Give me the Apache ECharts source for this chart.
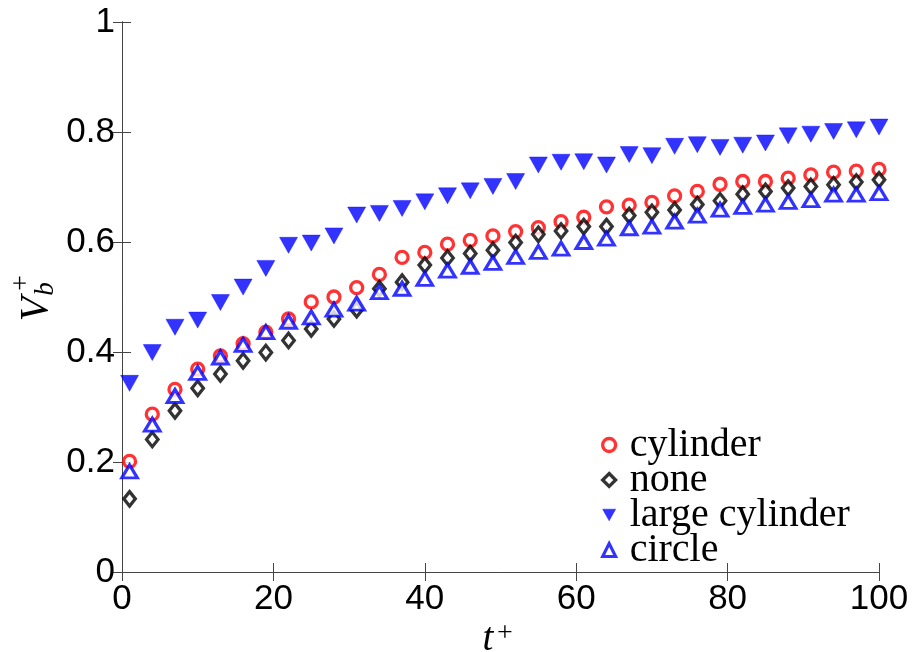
<!DOCTYPE html>
<html>
<head>
<meta charset="utf-8">
<script src="https://cdn.jsdelivr.net/npm/echarts@6/dist/echarts.min.js"></script>
<style>
  html, body { margin: 0; padding: 0; background: #fff; }
  #chart { width: 913px; height: 652px; }
</style>
</head>
<body>
<div id="chart"></div>
<script>
// Sampling times t+
const tPlus = [1, 4, 7, 10, 13, 16, 19, 22, 25, 28, 31, 34, 37, 40, 43, 46, 49,
  52, 55, 58, 61, 64, 67, 70, 73, 76, 79, 82, 85, 88, 91, 94, 97, 100];

// Bulk velocity V_b+ for each configuration
const cylinder = [0.201, 0.287, 0.332, 0.369, 0.393, 0.415, 0.436, 0.460, 0.491, 0.500,
  0.517, 0.541, 0.572, 0.581, 0.596, 0.603, 0.611, 0.619, 0.626, 0.637, 0.645, 0.664,
  0.667, 0.672, 0.684, 0.692, 0.705, 0.710, 0.710, 0.716, 0.722, 0.727, 0.729, 0.732];
const none = [0.133, 0.241, 0.293, 0.334, 0.360, 0.384, 0.399, 0.421, 0.442, 0.460,
  0.477, 0.515, 0.527, 0.558, 0.571, 0.579, 0.585, 0.599, 0.614, 0.620, 0.628, 0.628,
  0.648, 0.654, 0.658, 0.668, 0.675, 0.687, 0.692, 0.698, 0.701, 0.704, 0.709, 0.713];
const largeCylinder = [0.343, 0.399, 0.445, 0.458, 0.490, 0.518, 0.552, 0.594, 0.598, 0.611,
  0.649, 0.652, 0.661, 0.673, 0.684, 0.693, 0.701, 0.710, 0.740, 0.745, 0.746, 0.740,
  0.759, 0.757, 0.774, 0.777, 0.772, 0.776, 0.780, 0.793, 0.796, 0.801, 0.804, 0.809];
const circle = [0.183, 0.268, 0.320, 0.362, 0.390, 0.413, 0.436, 0.455, 0.463, 0.477,
  0.488, 0.509, 0.515, 0.533, 0.548, 0.555, 0.562, 0.573, 0.582, 0.588, 0.600, 0.606,
  0.625, 0.628, 0.637, 0.648, 0.659, 0.664, 0.668, 0.673, 0.676, 0.686, 0.686, 0.689];

const seriesNames = ['cylinder', 'none', 'large cylinder', 'circle'];
const xTicks = ['0', '20', '40', '60', '80', '100'];
const yTicks = ['0', '0.2', '0.4', '0.6', '0.8', '1'];

const pairs = ys => tPlus.map((t, i) => [t, ys[i]]);

const tickFont = { fontFamily: 'Liberation Sans, Arial, sans-serif', fontSize: 35, color: '#000' };
const axisLine = { show: true, lineStyle: { color: '#444', width: 1 } };
const innerTick = { show: true, inside: true, length: 9, lineStyle: { color: '#444', width: 1 } };

// Marker styles; legendIcon is the matching glyph used in the key
const downTriangle = 'path://M0,0 L20,0 L10,18 Z';
const styles = [
  { symbol: 'circle', symbolSize: 12, symbolRotate: 0, legendIcon: 'circle',
    itemStyle: { color: '#ffffff', borderColor: '#ff0000', borderWidth: 3.3 } },
  { symbol: 'diamond', symbolSize: [11.5, 14.5], symbolRotate: 0, legendIcon: 'diamond',
    itemStyle: { color: '#ffffff', borderColor: '#000000', borderWidth: 3.3 } },
  { symbol: 'triangle', symbolSize: [18, 16], symbolRotate: 180, legendIcon: downTriangle,
    itemStyle: { color: '#0000ff', borderColor: '#0000ff', borderWidth: 0.5 } },
  { symbol: 'triangle', symbolSize: [15.5, 13], symbolRotate: 0, legendIcon: 'triangle',
    itemStyle: { color: '#ffffff', borderColor: '#0000ff', borderWidth: 3.1 } }
];
const values = [cylinder, none, largeCylinder, circle];

const chart = echarts.init(document.getElementById('chart'), null, { renderer: 'canvas' });

chart.setOption({
  animation: false,
  backgroundColor: '#ffffff',
  grid: { left: 122, right: 34, top: 22, bottom: 80, containLabel: false },
  xAxis: [
    { type: 'value', min: 0, max: 100, interval: 20, position: 'bottom',
      axisLine: axisLine, axisTick: innerTick, splitLine: { show: false },
      axisLabel: Object.assign({ margin: 10, formatter: v => xTicks[Math.round(v / 20)] }, tickFont) },
    { type: 'value', min: 0, max: 100, interval: 20, position: 'top',
      axisLine: axisLine, axisTick: innerTick, splitLine: { show: false },
      axisLabel: { show: false } }
  ],
  yAxis: [
    { type: 'value', min: 0, max: 1, interval: 0.2, position: 'left',
      axisLine: axisLine, axisTick: innerTick, splitLine: { show: false },
      axisLabel: Object.assign({ margin: 7, formatter: v => yTicks[Math.round(v / 0.2)] }, tickFont) },
    { type: 'value', min: 0, max: 1, interval: 0.2, position: 'right',
      axisLine: axisLine, axisTick: innerTick, splitLine: { show: false },
      axisLabel: { show: false } }
  ],
  legend: {
    orient: 'vertical',
    left: 596,
    top: 420,
    itemWidth: 13,
    itemHeight: 13,
    itemGap: -5,
    symbolKeepAspect: true,
    selectedMode: false,
    textStyle: { fontFamily: 'Liberation Serif, Times New Roman, serif', fontSize: 40,
      lineHeight: 34, color: '#000', padding: [0, 0, 0, 9] },
    data: seriesNames.map((n, i) => ({ name: n, icon: styles[i].legendIcon,
      itemStyle: { borderWidth: styles[i].itemStyle.borderWidth } }))
  },
  series: seriesNames.map((name, i) => ({
    name: name,
    type: 'scatter',
    xAxisIndex: 0,
    yAxisIndex: 0,
    symbol: styles[i].symbol,
    symbolSize: styles[i].symbolSize,
    symbolRotate: styles[i].symbolRotate,
    itemStyle: styles[i].itemStyle,
    emphasis: { disabled: true },
    data: pairs(values[i])
  })),
  graphic: [
    { // y-axis title V_b^+
      type: 'group', x: 36, y: 297, rotation: Math.PI / 2,
      children: [
        { type: 'text', x: -12, y: 0, style: { text: 'V', fontFamily: 'Liberation Serif, serif',
          fontStyle: 'italic', fontSize: 40, fill: '#000', align: 'center', verticalAlign: 'middle' } },
        { type: 'text', x: 8, y: 10, style: { text: 'b', fontFamily: 'Liberation Serif, serif',
          fontStyle: 'italic', fontSize: 27, fill: '#000', align: 'center', verticalAlign: 'middle' } },
        { type: 'text', x: 14, y: -14, style: { text: '+', fontFamily: 'Liberation Serif, serif',
          fontSize: 28, fill: '#000', align: 'center', verticalAlign: 'middle' } }
      ]
    },
    { // x-axis title t^+
      type: 'group', x: 497, y: 640,
      children: [
        { type: 'text', x: -9, y: 0, style: { text: 't', fontFamily: 'Liberation Serif, serif',
          fontStyle: 'italic', fontSize: 39, fill: '#000', align: 'center', verticalAlign: 'middle' } },
        { type: 'text', x: 8, y: -6, style: { text: '+', fontFamily: 'Liberation Serif, serif',
          fontSize: 28, fill: '#000', align: 'center', verticalAlign: 'middle' } }
      ]
    }
  ]
});
</script>
</body>
</html>
